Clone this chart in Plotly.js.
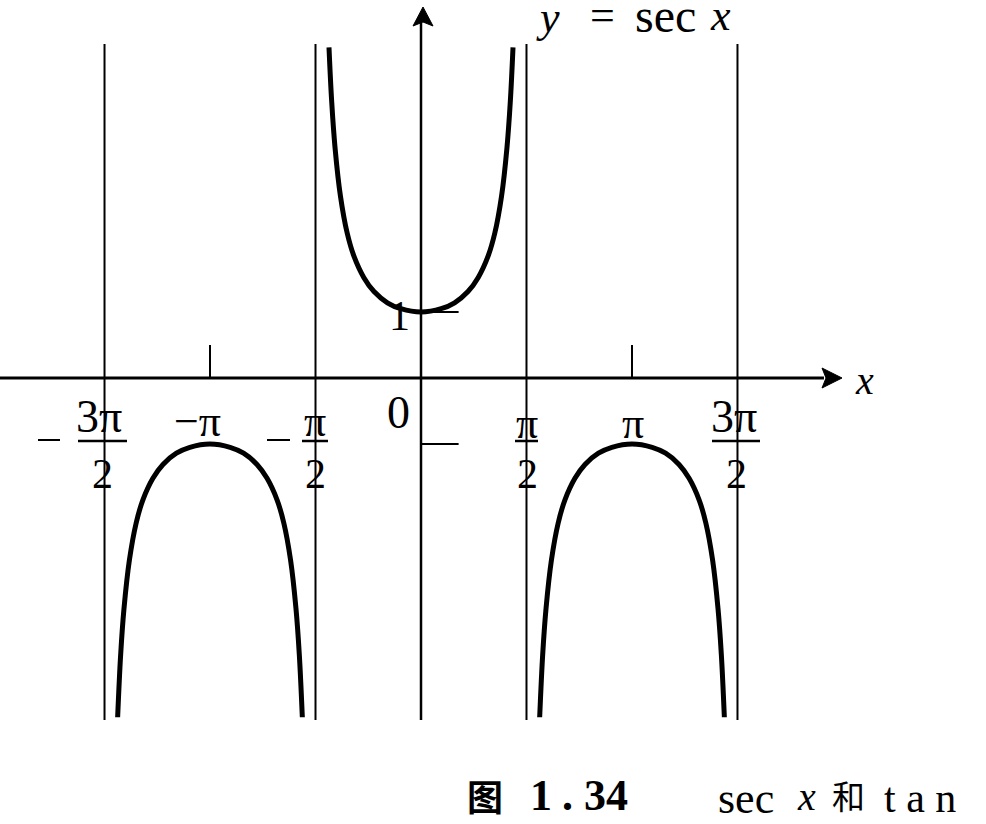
<!DOCTYPE html>
<html>
<head>
<meta charset="utf-8">
<script src="https://cdn.plot.ly/plotly-3.0.1.min.js"></script>
<style>html,body{margin:0;padding:0;background:#fff;}#chart{width:986px;height:824px;}</style>
</head>
<body>
<div id="chart"></div>
<script>
// ---- Data: y = sec x ----
const midX  = [-1.37, -1.33, -1.28, -1.2, -1.1, -1.0, -0.85, -0.7, -0.5, -0.3, 0, 0.3, 0.5, 0.7, 0.85, 1.0, 1.1, 1.2, 1.28, 1.33, 1.37];
const midY  = [5.01, 4.19, 3.49, 2.76, 2.20, 1.85, 1.52, 1.31, 1.14, 1.05, 1, 1.05, 1.14, 1.31, 1.52, 1.85, 2.20, 2.76, 3.49, 4.19, 5.01];
const leftX = [-4.517, -4.472, -4.422, -4.342, -4.242, -4.142, -3.992, -3.842, -3.642, -3.442, -3.142, -2.842, -2.642, -2.442, -2.292, -2.142, -2.042, -1.942, -1.862, -1.812, -1.767];
const rightX = [1.767, 1.812, 1.862, 1.942, 2.042, 2.142, 2.292, 2.442, 2.642, 2.842, 3.142, 3.442, 3.642, 3.842, 3.992, 4.142, 4.242, 4.342, 4.422, 4.472, 4.517];
const lowY  = [-5.14, -4.19, -3.49, -2.76, -2.20, -1.85, -1.52, -1.31, -1.14, -1.05, -1, -1.05, -1.14, -1.31, -1.52, -1.85, -2.20, -2.76, -3.49, -4.19, -5.14];
const asymptotes = [-3*Math.PI/2, -Math.PI/2, Math.PI/2, 3*Math.PI/2];
const piTicks = [-Math.PI, Math.PI];
const yTicks = [1, -1];

// ---- Layout helpers ----
const W = 986, H = 824;
const X0 = 421, SX = 67.16, Y0 = 378, SY = 66;
const xr = [(0 - X0) / SX, (W - X0) / SX];
const yr = [(Y0 - H) / SY, Y0 / SY];
const px = p => p / W;          // paper x from pixel
const py = p => 1 - p / H;      // paper y from pixel

const curve = {color: '#000', width: 5, shape: 'spline', smoothing: 1};
const traces = [
  {x: midX, y: midY, mode: 'lines', line: curve, hoverinfo: 'skip'},
  {x: leftX, y: lowY, mode: 'lines', line: curve, hoverinfo: 'skip'},
  {x: rightX, y: lowY, mode: 'lines', line: curve, hoverinfo: 'skip'}
];

const shapes = [];
asymptotes.forEach(a => shapes.push({type: 'line', xref: 'x', yref: 'y', x0: a, x1: a, y0: -5.18, y1: 5.06, line: {color: '#000', width: 2}}));
// x axis
shapes.push({type: 'line', xref: 'x', yref: 'y', x0: xr[0], x1: 6.0, y0: 0, y1: 0, line: {color: '#000', width: 3}});
// y axis
shapes.push({type: 'line', xref: 'x', yref: 'y', x0: 0, x1: 0, y0: -5.18, y1: 5.4, line: {color: '#000', width: 2.5}});
piTicks.forEach(t => shapes.push({type: 'line', xref: 'x', yref: 'y', x0: t, x1: t, y0: 0, y1: 0.5, line: {color: '#000', width: 2}}));
yTicks.forEach(t => shapes.push({type: 'line', xref: 'x', yref: 'y', x0: 0, x1: 0.56, y0: t, y1: t, line: {color: '#000', width: 2}}));
// fraction bars
[[78,127],[302,328],[515,538],[712,760]].forEach(b => shapes.push({type: 'line', xref: 'paper', yref: 'paper', x0: px(b[0]), x1: px(b[1]), y0: py(441), y1: py(441), line: {color: '#000', width: 2.5}}));
// minus signs of the fractions
[[38,60],[267,290]].forEach(b => shapes.push({type: 'line', xref: 'paper', yref: 'paper', x0: px(b[0]), x1: px(b[1]), y0: py(440), y1: py(440), line: {color: '#000', width: 2}}));
// arrow heads
shapes.push({type: 'path', xref: 'paper', yref: 'paper', path: `M ${px(842)} ${py(378)} L ${px(822)} ${py(368)} L ${px(826)} ${py(378)} L ${px(822)} ${py(388)} Z`, fillcolor: '#000', line: {color: '#000', width: 1}});
shapes.push({type: 'path', xref: 'paper', yref: 'paper', path: `M ${px(423)} ${py(7)} L ${px(413)} ${py(26)} L ${px(423)} ${py(22)} L ${px(433)} ${py(26)} Z`, fillcolor: '#000', line: {color: '#000', width: 1}});

const serif = 'Liberation Serif, Times New Roman, serif';
function txt(t, x, y, size, opts) {
  return Object.assign({text: t, xref: 'paper', yref: 'paper', x: px(x), y: py(y), xanchor: 'center', yanchor: 'middle', showarrow: false, font: {family: serif, size: size, color: '#000'}}, opts || {});
}
const bold = {family: 'Liberation Serif, Noto Sans CJK SC, serif', size: 44, color: '#000'};
const annotations = [
  // title  y = sec x
  txt('<i>y</i>', 548, 18, 44),
  txt('=', 602, 16, 44),
  txt('sec', 665, 16, 48),
  txt('<i>x</i>', 720, 16, 44),
  txt('<i>x</i>', 864, 380, 40),
  txt('0', 398, 412, 46),
  txt('1', 399, 316, 42),
  txt('3\u03c0', 99, 416, 46),
  txt('2', 102, 474, 42),
  txt('\u2212\u03c0', 197, 421, 44),
  txt('\u03c0', 315, 421, 44),
  txt('2', 315, 474, 42),
  txt('\u03c0', 527, 423, 44),
  txt('2', 527, 474, 42),
  txt('\u03c0', 633, 423, 44),
  txt('3\u03c0', 734, 416, 46),
  txt('2', 736, 474, 42),
  // caption
  txt('\u56fe', 485, 795, 36, {font: {family: 'Noto Sans CJK SC, serif', size: 36, color: '#000', weight: 'bold'}}),
  txt('<b>1</b>', 541, 795, 44, {font: bold}),
  txt('<b>.</b>', 567, 795, 44, {font: bold}),
  txt('<b>34</b>', 606, 795, 44, {font: bold}),
  txt('sec', 746, 798, 44),
  txt('<i>x</i>', 806, 796, 40),
  txt('\u548c', 848, 795, 33, {font: {family: 'Noto Sans CJK SC, serif', size: 33, color: '#000'}}),
  txt('t a n', 920, 798, 42)
];

const layout = {
  width: W, height: H,
  margin: {l: 0, r: 0, t: 0, b: 0},
  paper_bgcolor: '#fff', plot_bgcolor: '#fff',
  showlegend: false,
  xaxis: {range: xr, visible: false, fixedrange: true},
  yaxis: {range: yr, visible: false, fixedrange: true},
  shapes: shapes,
  annotations: annotations
};
Plotly.newPlot('chart', traces, layout, {staticPlot: true, displayModeBar: false});
</script>
</body>
</html>
